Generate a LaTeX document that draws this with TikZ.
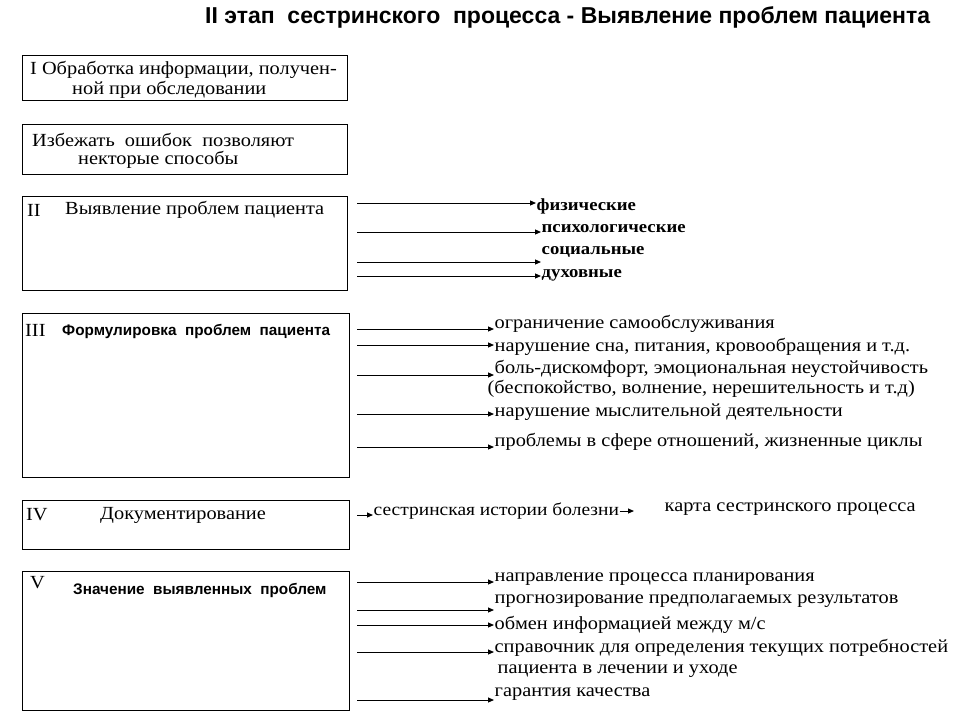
\documentclass[tikz,border=0pt]{standalone}
\usepackage{fontspec}
\setmainfont[FakeStretch=1.1]{Liberation Serif}
\setsansfont{Liberation Sans}
\usetikzlibrary{arrows.meta,positioning}

\begin{document}
\begin{tikzpicture}[x=1pt,y=-1pt,
  stage/.style={draw,line width=1.1pt,anchor=north west,inner sep=0pt},
  head/.style={anchor=west,inner sep=0pt,font=\fontsize{18.5}{21}\selectfont},
  sub/.style={anchor=west,inner sep=0pt,font=\sffamily\bfseries\fontsize{15.3}{17}\selectfont},
  item/.style={anchor=west,inner sep=0.5pt,font=\fontsize{18.5}{21}\selectfont},
  kind/.style={anchor=west,inner sep=0.5pt,font=\bfseries\fontsize{17}{19}\selectfont},
  arr/.style={-{Triangle[length=6pt,width=5pt]},line width=1pt}]
\useasboundingbox (0,0) rectangle (960,720);
% title
\node[anchor=west,inner sep=0pt,font=\sffamily\bfseries\fontsize{23}{26}\selectfont] (title) at (205,17) {II этап\ \ сестринского\ \ процесса - Выявление проблем пациента};
% stage boxes
\node[stage,minimum width=325,minimum height=45] (b1) at (22,55) {};
\node[stage,minimum width=325,minimum height=50] (b2) at (22,124) {};
\node[stage,minimum width=325,minimum height=94] (b3) at (22,196) {};
\node[stage,minimum width=327,minimum height=164] (b4) at (22,313) {};
\node[stage,minimum width=327,minimum height=49] (b5) at (22,500) {};
\node[stage,minimum width=327,minimum height=139] (b6) at (22,571) {};
\node[head] (t1) at (30,70) {I Обработка информации, получен-};
\node[head] (t1b) at (72,90) {ной при обследовании};
\node[head] (t2) at (32,140) {Избежать\ \ ошибок\ \ позволяют};
\node[head] (t2b) at (78,160) {некторые способы};
\node[head] (n3) at (27,210) {II};
\node[head] (t3) at (65,210) {Выявление проблем пациента};
\node[head] (n4) at (25,330) {III};
\node[sub] (t4) at (62,331) {Формулировка\ \ проблем\ \ пациента};
\node[head] (n5) at (26,515) {IV};
\node[head] (t5) at (100,515) {Документирование};
\node[head] (n6) at (30,583) {V};
\node[sub] (t6) at (73,590) {Значение\ \ выявленных\ \ проблем};
% II: kinds of problems
\node[kind] (k1) at (536,206) {физические};
\node[kind] (k2) at (541,229) {психологические};
\node[kind] (k3) at (541,252) {социальные};
\node[kind] (k4) at (541,275) {духовные};
\foreach \i/\y in {1/203,2/232,3/262,4/276}{
  \coordinate (s\i) at (357,\y);
  \draw[arr] (s\i) -- (s\i -| k\i.west);
}
% III: wording
\node[item] (f1) at (494,324) {ограничение самообслуживания};
\node[item] (f2) at (494,347) {нарушение сна, питания, кровообращения и т.д.};
\node[item] (f3) at (494,369) {боль-дискомфорт, эмоциональная неустойчивость};
\node[item] (f3b) at (487,389) {(беспокойство, волнение, нерешительность и т.д)};
\node[item] (f4) at (494,412) {нарушение мыслительной деятельности};
\node[item] (f5) at (494,442) {проблемы в сфере отношений, жизненные циклы};
\foreach \i/\y in {1/329,2/345,3/375,4/414,5/447}{
  \coordinate (r\i) at (357,\y);
  \draw[arr] (r\i) -- (r\i -| f\i.west);
}
% IV: documents
\node[item,font=\fontsize{17.7}{20}\selectfont] (d1) at (373,511) {сестринская истории болезни};
\node[item] (d2) at (664,509) {карта сестринского процесса};
\coordinate (q1) at (357,515);
\draw[arr] (q1) -- (q1 -| d1.west);
\draw[arr,shorten >=30pt] (d1.east) -- (d1.east -| d2.west);
% V: meaning
\node[item] (v1) at (494,579) {направление процесса планирования};
\node[item] (v2) at (494,601) {прогнозирование предполагаемых результатов};
\node[item] (v3) at (494,625) {обмен информацией между м/с};
\node[item] (v4) at (494,648) {справочник для определения текущих потребностей};
\node[item] (v4b) at (497,671) {пациента в лечении и уходе};
\node[item] (v5) at (494,694) {гарантия качества};
\foreach \i/\y in {1/582,2/610,3/625,4/652,5/700}{
  \coordinate (u\i) at (357,\y);
  \draw[arr] (u\i) -- (u\i -| v\i.west);
}
\end{tikzpicture}
\end{document}
